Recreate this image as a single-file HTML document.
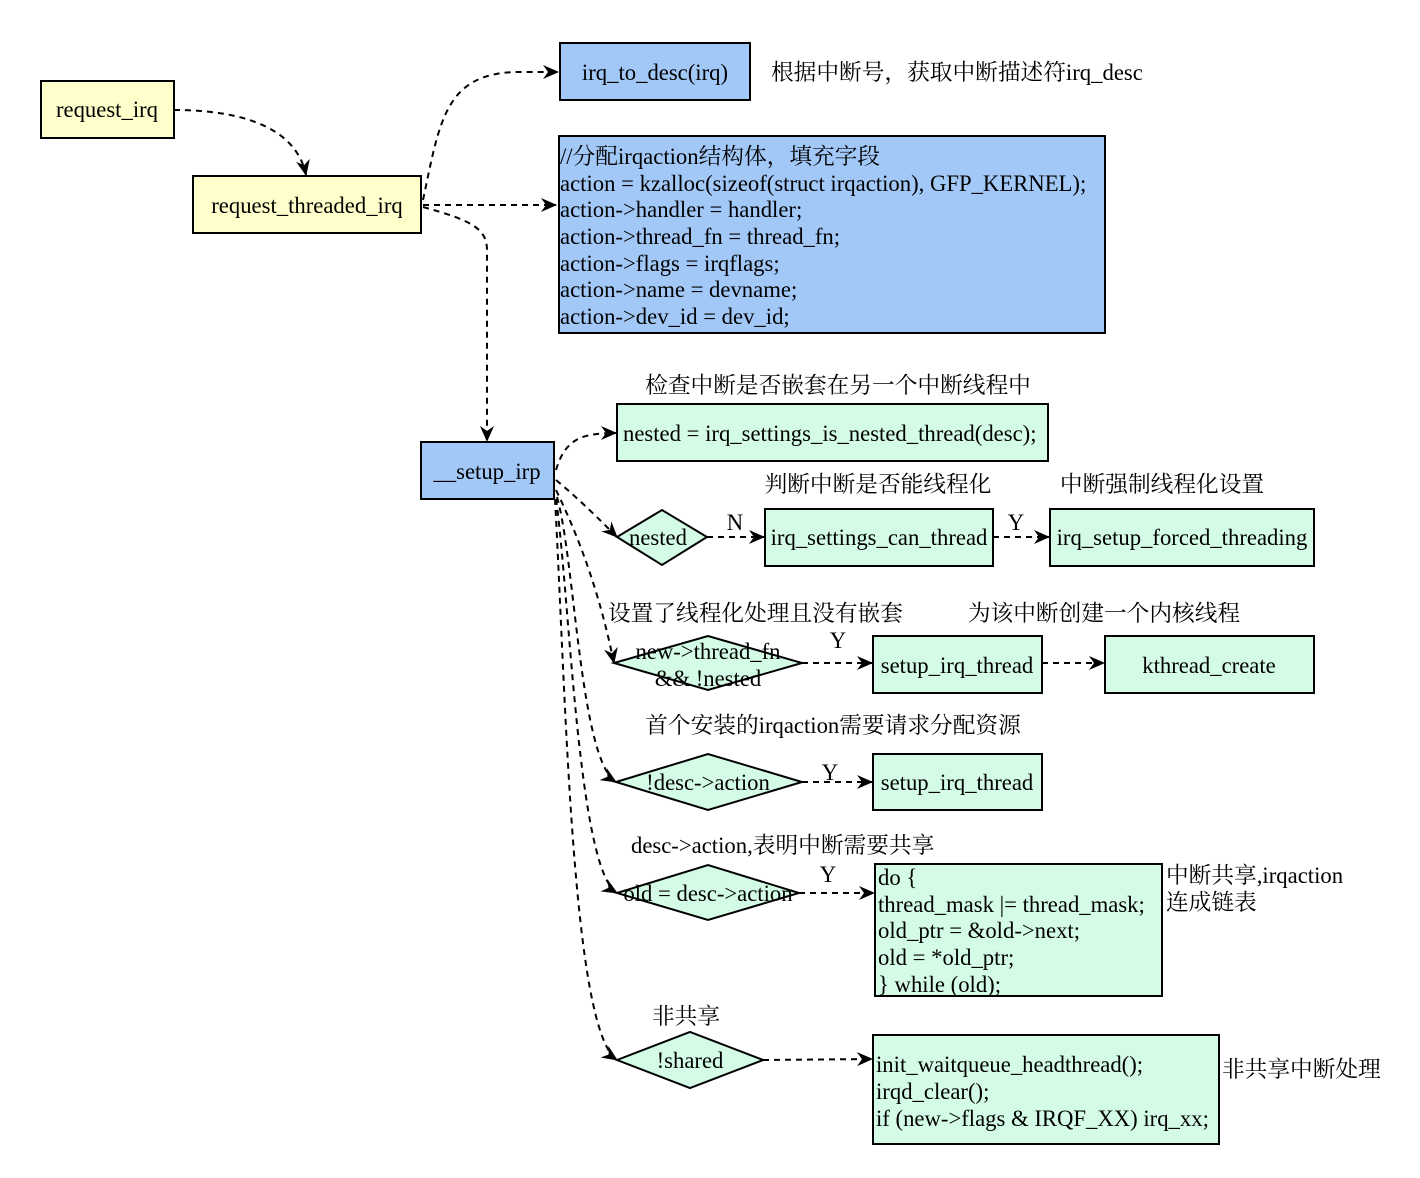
<!DOCTYPE html>
<html><head><meta charset="utf-8"><style>
html,body{margin:0;padding:0;background:#fff;}
svg{display:block;}
text{font-family:"Liberation Serif","Noto Serif CJK SC","Noto Sans CJK SC",serif;font-size:22.7px;fill:#000;}
.b{stroke:#000;stroke-width:2;}
.c{fill:none;stroke:#000;stroke-width:2;stroke-dasharray:6,5;}
</style></head><body>
<svg width="1420" height="1178" viewBox="0 0 1420 1178" xmlns="http://www.w3.org/2000/svg">
<defs>
<marker id="a" markerWidth="16" markerHeight="16" refX="15" refY="8" orient="auto" markerUnits="userSpaceOnUse">
<path d="M0,1 L16,8 L0,15 L5,8 z" fill="#000"/>
</marker>
</defs>
<rect class="b" x="41" y="81" width="133" height="57" fill="#ffffcc"/>
<text x="107" y="117" text-anchor="middle">request_irq</text>
<rect class="b" x="193" y="176" width="228" height="57" fill="#ffffcc"/>
<text x="307" y="213" text-anchor="middle">request_threaded_irq</text>
<rect class="b" x="560" y="43" width="190" height="57" fill="#a2c8f8"/>
<text x="655" y="80" text-anchor="middle">irq_to_desc(irq)</text>
<text x="771" y="80">根据中断号，获取中断描述符irq_desc</text>
<rect class="b" x="559" y="136" width="546" height="197" fill="#a2c8f8"/>
<text x="560" y="164">//分配irqaction结构体，填充字段</text>
<text x="560" y="191">action = kzalloc(sizeof(struct irqaction), GFP_KERNEL);</text>
<text x="560" y="217">action-&gt;handler = handler;</text>
<text x="560" y="244">action-&gt;thread_fn = thread_fn;</text>
<text x="560" y="271">action-&gt;flags = irqflags;</text>
<text x="560" y="297">action-&gt;name = devname;</text>
<text x="560" y="324">action-&gt;dev_id = dev_id;</text>

<rect class="b" x="421" y="442" width="133" height="57" fill="#a2c8f8"/>
<text x="487" y="479" text-anchor="middle">__setup_irp</text>

<text x="838" y="393" text-anchor="middle">检查中断是否嵌套在另一个中断线程中</text>
<rect class="b" x="617" y="404" width="431" height="57" fill="#d4fbe5"/>
<text x="623" y="441">nested = irq_settings_is_nested_thread(desc);</text>

<text x="878" y="492" text-anchor="middle">判断中断是否能线程化</text>
<text x="1162" y="492" text-anchor="middle">中断强制线程化设置</text>
<polygon class="b" points="617,537 662,510 707,537 662,565" fill="#d4fbe5"/>
<text x="658" y="545" text-anchor="middle">nested</text>
<rect class="b" x="765" y="509" width="228" height="57" fill="#d4fbe5"/>
<text x="879" y="545" text-anchor="middle">irq_settings_can_thread</text>
<rect class="b" x="1050" y="509" width="264" height="57" fill="#d4fbe5"/>
<text x="1182" y="545" text-anchor="middle">irq_setup_forced_threading</text>
<text x="735" y="530" text-anchor="middle">N</text>
<text x="1016" y="530" text-anchor="middle">Y</text>

<text x="608" y="621">设置了线程化处理且没有嵌套</text>
<text x="1104" y="621" text-anchor="middle">为该中断创建一个内核线程</text>
<polygon class="b" points="614,663 708,636 802,663 708,690" fill="#d4fbe5"/>
<text x="708" y="659" text-anchor="middle">new-&gt;thread_fn</text>
<text x="708" y="686" text-anchor="middle">&amp;&amp; !nested</text>
<text x="838" y="648" text-anchor="middle">Y</text>
<rect class="b" x="873" y="636" width="169" height="57" fill="#d4fbe5"/>
<text x="957" y="673" text-anchor="middle">setup_irq_thread</text>
<rect class="b" x="1105" y="636" width="209" height="57" fill="#d4fbe5"/>
<text x="1209" y="673" text-anchor="middle">kthread_create</text>

<text x="833" y="733" text-anchor="middle">首个安装的irqaction需要请求分配资源</text>
<polygon class="b" points="616,782 708,754 802,782 708,810" fill="#d4fbe5"/>
<text x="708" y="790" text-anchor="middle">!desc-&gt;action</text>
<text x="830" y="780" text-anchor="middle">Y</text>
<rect class="b" x="873" y="754" width="169" height="56" fill="#d4fbe5"/>
<text x="957" y="790" text-anchor="middle">setup_irq_thread</text>

<text x="631" y="853">desc-&gt;action,表明中断需要共享</text>
<polygon class="b" points="617,893 708,865 799,893 708,920" fill="#d4fbe5"/>
<text x="708" y="901" text-anchor="middle">old = desc-&gt;action</text>
<text x="828" y="882" text-anchor="middle">Y</text>
<rect class="b" x="875" y="864" width="287" height="132" fill="#d4fbe5"/>
<text x="878" y="885">do {</text>
<text x="878" y="912">thread_mask |= thread_mask;</text>
<text x="878" y="938">old_ptr = &amp;old-&gt;next;</text>
<text x="878" y="965">old = *old_ptr;</text>
<text x="878" y="992">} while (old);</text>
<text x="1166" y="883">中断共享,irqaction</text>
<text x="1166" y="910">连成链表</text>

<text x="686" y="1024" text-anchor="middle">非共享</text>
<polygon class="b" points="617,1060 690,1032 763,1060 690,1088" fill="#d4fbe5"/>
<text x="690" y="1068" text-anchor="middle">!shared</text>
<rect class="b" x="873" y="1035" width="346" height="109" fill="#d4fbe5"/>
<text x="876" y="1072">init_waitqueue_headthread();</text>
<text x="876" y="1099">irqd_clear();</text>
<text x="876" y="1126">if (new-&gt;flags &amp; IRQF_XX) irq_xx;</text>
<text x="1222" y="1077">非共享中断处理</text>

<path class="c" marker-end="url(#a)" d="M174,110 C230,110 295,122 306,175"/>
<path class="c" marker-end="url(#a)" d="M423,200 C440,120 445,72 520,72 L558,72"/>
<path class="c" marker-end="url(#a)" d="M423,205 L556,205"/>
<path class="c" marker-end="url(#a)" d="M423,207 C470,220 487,228 487,250 L487,441"/>
<path class="c" marker-end="url(#a)" d="M556,470 C565,440 580,433 616,433"/>
<path class="c" marker-end="url(#a)" d="M556,480 C580,500 600,520 617,537"/>
<path class="c" marker-end="url(#a)" d="M556,490 C590,560 605,620 614,663"/>
<path class="c" marker-end="url(#a)" d="M557,497 C575,560 580,760 616,782"/>
<path class="c" marker-end="url(#a)" d="M556,499 C570,600 578,870 617,893"/>
<path class="c" marker-end="url(#a)" d="M555,499 C566,700 572,1030 617,1060"/>
<path class="c" marker-end="url(#a)" d="M707,537 L764,537"/>
<path class="c" marker-end="url(#a)" d="M993,537 L1049,537"/>
<path class="c" marker-end="url(#a)" d="M802,663 L872,663"/>
<path class="c" marker-end="url(#a)" d="M1042,663 L1104,663"/>
<path class="c" marker-end="url(#a)" d="M802,782 L872,782"/>
<path class="c" marker-end="url(#a)" d="M799,893 L874,893"/>
<path class="c" marker-end="url(#a)" d="M763,1060 L872,1059"/>
</svg>
</body></html>
